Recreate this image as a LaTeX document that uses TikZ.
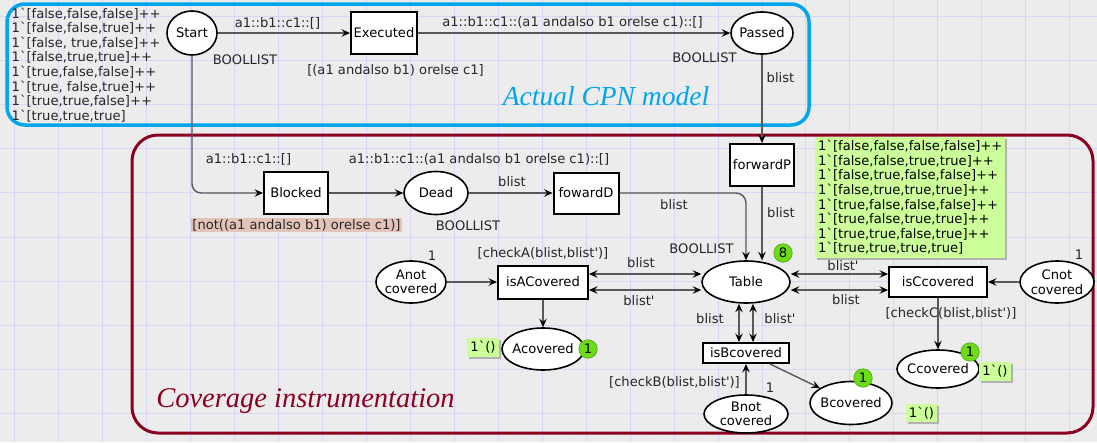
\documentclass[tikz,border=0pt]{standalone}
\usepackage{fontspec}
\setmainfont{DejaVu Sans}[Ligatures=TeXOff]
\newfontfamily\titlefont{Liberation Serif}[Ligatures=TeXOff]
\usetikzlibrary{shapes.geometric,arrows.meta,shadows,calc}

\definecolor{bgray}{RGB}{236,236,236}
\definecolor{gridc}{RGB}{214,214,248}
\definecolor{cpnblue}{RGB}{0,166,235}
\definecolor{cpnred}{RGB}{140,0,32}
\definecolor{arcgray}{RGB}{88,88,88}
\definecolor{tokgreen}{RGB}{108,220,24}
\definecolor{markgreen}{RGB}{204,255,153}
\definecolor{guardpink}{RGB}{228,196,186}

\begin{document}
\begin{tikzpicture}[x=1pt,y=-1pt,
  font=\fontsize{13.1}{14.6}\selectfont,
  place/.style={ellipse,draw=black,line width=1.6pt,fill=white,
    inner xsep=-14pt,inner ysep=-10pt,align=center},
  trans/.style={rectangle,draw=black,line width=2pt,fill=white,inner sep=0pt},
  tip/.tip={Stealth[length=8.5pt,width=7.5pt,inset=3.2pt,color=black]},
  cpnarc/.style={draw=arcgray,line width=1.4pt,-tip},
  biarc/.style={draw=arcgray,line width=1.4pt,tip-tip},
  lbl/.style={inner sep=0pt,text=black!85},
  token/.style={circle,fill=tokgreen,draw=tokgreen!75!black,line width=0.6pt,
    inner sep=0pt,minimum size=18.5pt},
  marking/.style={fill=markgreen,inner xsep=3pt,inner ysep=3pt,
    drop shadow={shadow xshift=2pt,shadow yshift=-2pt,fill=black!30,opacity=1}},
]

% page and background grid
\fill[bgray] (0,0) rectangle (1097,442);
\useasboundingbox (0,0) rectangle (1097,442);
\foreach \i in {0,...,24}
  \draw[gridc,line width=1pt] ({14.85+43.95*\i},0) -- ++(0,442);
\foreach \j in {0,...,9}
  \draw[gridc,line width=1pt] (0,{16.7+44.07*\j}) -- ++(1097,0);

% module frames
\draw[cpnblue,line width=3.5pt,rounded corners=18pt] (7,4) rectangle (809,125);
\draw[cpnred,line width=3pt,rounded corners=26pt] (132,135) rectangle (1093,433);

\node[text=cpnblue,anchor=base,font=\titlefont\itshape\fontsize{27.5}{30}\selectfont]
  (ttlA) at (606,105) {Actual CPN model};
\node[text=cpnred,anchor=base,font=\titlefont\itshape\fontsize{28.5}{30}\selectfont]
  (ttlB) at (305.5,407) {Coverage instrumentation};

% places and transitions
\node[place,minimum width=50pt,minimum height=44pt] (start) at (192,33) {Start};
\node[trans,minimum width=66pt,minimum height=42pt] (exec) at (384,33) {Executed};
\node[place,minimum width=62pt,minimum height=42pt] (passed) at (762,33) {Passed};
\node[trans,minimum width=64pt,minimum height=42pt] (blocked) at (296,193) {Blocked};
\node[place,minimum width=64pt,minimum height=43pt] (dead) at (436,193) {Dead};
\node[trans,minimum width=65pt,minimum height=41pt] (fwdD) at (586,193) {fowardD};
\node[trans,minimum width=64pt,minimum height=42pt] (fwdP) at (762,165) {forwardP};
\node[place,minimum width=88pt,minimum height=42pt] (table) at (746,282) {Table};
\node[trans,minimum width=90pt,minimum height=33pt] (isA) at (543,282) {isACovered};
\node[place,minimum width=70pt,minimum height=42pt] (anot) at (411,282) {Anot\\covered};
\node[place,minimum width=82pt,minimum height=42pt] (acov) at (543,349) {Acovered};
\node[trans,minimum width=86pt,minimum height=20pt] (isB) at (746,353) {isBcovered};
\node[place,minimum width=84pt,minimum height=38pt] (bnot) at (746,414) {Bnot\\covered};
\node[place,minimum width=82pt,minimum height=43pt] (bcov) at (851,403) {Bcovered};
\node[trans,minimum width=98pt,minimum height=30pt] (isC) at (938,282) {isCcovered};
\node[place,minimum width=74pt,minimum height=42pt] (cnot) at (1057,282) {Cnot\\covered};
\node[place,minimum width=82pt,minimum height=38pt] (ccov) at (938,369) {Ccovered};

% arcs
\draw[cpnarc] (start) -- (exec);
\draw[cpnarc] (exec) -- (passed);
\draw[cpnarc] (passed) -- (fwdP);
\draw[cpnarc,rounded corners=9pt] (start.south) |- (blocked.west);
\draw[cpnarc] (blocked) -- (dead);
\draw[cpnarc] (dead) -- (fwdD);
\draw[cpnarc,rounded corners=10pt] (fwdD.east) -| (table.north);
\draw[cpnarc] (fwdP.south) -- (fwdP.south |- table.north);
\draw[cpnarc] (anot) -- (isA);
\draw[cpnarc] (isA) -- (acov);
\draw[cpnarc] (cnot) -- (isC);
\draw[cpnarc] (isC) -- (ccov);
\draw[cpnarc] (bnot) -- (isB);
\draw[cpnarc] ([xshift=24pt]isB.south) -- (bcov);
\draw[biarc] ([yshift=8pt]isA.east) -- ([yshift=8pt]isA.east -| table.west);
\draw[biarc] ([yshift=-8pt]isA.east) -- ([yshift=-8pt]isA.east -| table.west);
\draw[biarc] ([yshift=8pt]table.east) -- ([yshift=8pt]table.east -| isC.west);
\draw[biarc] ([yshift=-8pt]table.east) -- ([yshift=-8pt]table.east -| isC.west);
\draw[biarc] ([xshift=-7pt]table.south) -- ([xshift=-7pt]table.south |- isB.north);
\draw[biarc] ([xshift=7pt]table.south) -- ([xshift=7pt]table.south |- isB.north);

% inscriptions
\node[lbl] (l1) at (277.5,23) {a1::b1::c1::[]};
\node[lbl] (l2) at (572.5,22.5) {a1::b1::c1::(a1 andalso b1 orelse c1)::[]};
\node[lbl] (l3) at (245,60) {BOOLLIST};
\node[lbl] (l4) at (395.5,70) {[(a1 andalso b1) orelse c1]};
\node[lbl] (l5) at (704.5,58) {BOOLLIST};
\node[lbl] (l6) at (780.5,78) {blist};
\node[lbl] (l7) at (248.5,159) {a1::b1::c1::[]};
\node[lbl] (l8) at (479,159) {a1::b1::c1::(a1 andalso b1 orelse c1)::[]};
\node[lbl,fill=guardpink,inner xsep=1pt,inner ysep=1.5pt] (l9) at (296.5,225)
  {[not((a1 andalso b1) orelse c1)]};
\node[lbl] (l10) at (468,226) {BOOLLIST};
\node[lbl] (l11) at (512,182) {blist};
\node[lbl] (l12) at (674,205) {blist};
\node[lbl] (l13) at (781,213) {blist};
\node[lbl] (l14) at (701.5,249) {BOOLLIST};
\node[lbl] (l15) at (543,253) {[checkA(blist,blist')]};
\node[lbl] (l16) at (432,256) {1};
\node[lbl] (l17) at (641,263) {blist};
\node[lbl] (l18) at (639,301) {blist'};
\node[lbl] (l19) at (710,319) {blist};
\node[lbl] (l20) at (780,319) {blist'};
\node[lbl] (l21) at (674.5,382) {[checkB(blist,blist')]};
\node[lbl] (l22) at (770,388) {1};
\node[lbl] (l23) at (843,266) {blist'};
\node[lbl] (l24) at (846,300) {blist};
\node[lbl] (l25) at (951,313) {[checkC(blist,blist')]};
\node[lbl] (l26) at (1079,255) {1};

% initial marking of Start
\node[lbl,anchor=north west,align=left] (mkS) at (11.5,7.5) {%
1`[false,false,false]++\\
1`[false,false,true]++\\
1`[false, true,false]++\\
1`[false,true,true]++\\
1`[true,false,false]++\\
1`[true, false,true]++\\
1`[true,true,false]++\\
1`[true,true,true]};

% current markings
\node[marking,anchor=north west,align=left] (mkT) at (815,137) {%
1`[false,false,false,false]++\\
1`[false,false,true,true]++\\
1`[false,true,false,false]++\\
1`[false,true,true,true]++\\
1`[true,false,false,false]++\\
1`[true,false,true,true]++\\
1`[true,true,false,true]++\\
1`[true,true,true,true]};
\node[marking] (mkA) at (483,347.5) {1`()};
\node[marking] (mkB) at (921.5,413) {1`()};
\node[marking] (mkC) at (995,371.5) {1`()};

% token counts
\node[token] (tokT) at (783,253) {8};
\node[token] (tokA) at (588,349) {1};
\node[token] (tokB) at (863,378) {1};
\node[token] (tokC) at (970,352) {1};
\end{tikzpicture}
\end{document}
